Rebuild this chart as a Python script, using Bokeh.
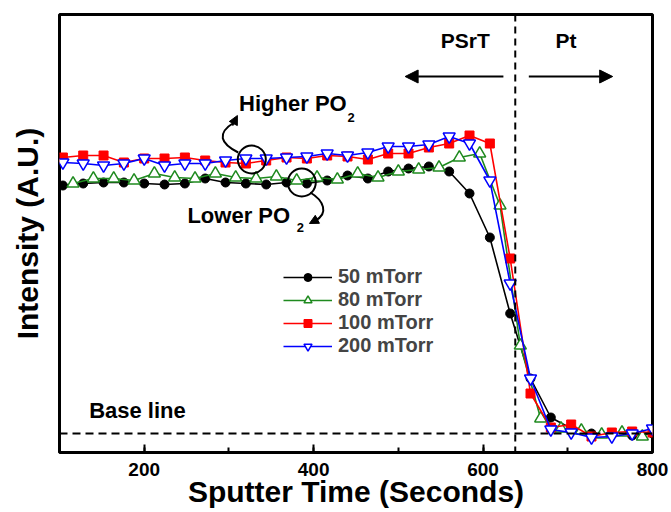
from bokeh.plotting import figure
from bokeh.models import (Span, Label, Arrow, NormalHead, Legend, LegendItem,
                          SingleIntervalTicker, FixedTicker, Range1d)
from bokeh.embed import file_html
from bokeh.resources import INLINE

FONT = "Liberation Sans"

# ---- data (intensity in arbitrary units, baseline = 0) ----
time_a = [104, 128, 152, 176, 200, 224, 248, 272, 296, 320, 344, 368, 392, 416, 440,
          464, 488, 512, 536, 560, 584, 608, 632, 656, 680, 704, 728, 752, 776, 800]
time_g = [116, 140, 164, 188, 212, 236, 260, 284, 308, 332, 356, 380, 404, 428, 452,
          476, 500, 524, 548, 572, 596, 620, 644, 668, 692, 716, 740, 764, 788]

i_50 = [248, 250, 251, 251, 250, 249, 250, 255, 251, 250, 249, 251, 250, 253, 258,
        255, 262, 265, 267, 262, 240, 196, 120, 55, 16, 5, 0, -1, -2, 0]
i_80 = [250, 255, 255, 253, 260, 256, 255, 260, 256, 255, 257, 253, 256, 254, 260,
        256, 262, 264, 266, 276, 280, 228, 88, 15, 5, 3, -1, 1, -3]
i_100 = [276, 278, 278, 271, 275, 275, 276, 273, 271, 270, 273, 276, 275, 278, 277,
         274, 280, 280, 286, 290, 298, 290, 175, 40, 6, 9, -3, 1, 2, 1]
i_200 = [271, 270, 268, 270, 275, 268, 270, 270, 273, 275, 275, 276, 277, 280, 278,
         281, 287, 287, 289, 297, 290, 253, 150, 55, 4, 1, -4, -3, 0, 5]

labels = ["50 mTorr", "80 mTorr", "100 mTorr", "200 mTorr"]
x_ticks = [200, 400, 600, 800]
interface_time = 638

p = figure(width=671, height=512, output_backend="svg", toolbar_location=None,
           x_range=Range1d(100, 800), y_range=Range1d(-19, 419),
           min_border_left=59, min_border_right=19, min_border_top=14,
           min_border_bottom=60)
p.background_fill_color = "white"
p.border_fill_color = "white"
p.grid.visible = False
p.outline_line_color = "black"
p.outline_line_width = 3

# x axis
p.xaxis.ticker = SingleIntervalTicker(interval=200, num_minor_ticks=2)
p.xaxis.axis_line_color = None
p.xaxis.major_tick_in = 8
p.xaxis.major_tick_out = 0
p.xaxis.major_tick_line_width = 2
p.xaxis.minor_tick_in = 5
p.xaxis.minor_tick_out = 0
p.xaxis.minor_tick_line_width = 2
p.xaxis.major_label_text_font = FONT
p.xaxis.major_label_text_font_style = "bold"
p.xaxis.major_label_text_font_size = "19px"
p.xaxis.major_label_text_color = "black"
p.xaxis.major_label_standoff = 10
p.xaxis.axis_label = "Sputter Time (Seconds)"
p.xaxis.axis_label_text_font = FONT
p.xaxis.axis_label_text_font_style = "bold"
p.xaxis.axis_label_text_font_size = "30px"
p.xaxis.axis_label_text_color = "black"
p.xaxis.axis_label_text_line_height = 1.0
p.xaxis.axis_label_standoff = -4

# y axis (no ticks)
p.yaxis.ticker = FixedTicker(ticks=[])
p.yaxis.axis_line_color = None
p.yaxis.major_tick_line_color = None
p.yaxis.minor_tick_line_color = None
p.yaxis.axis_label = "Intensity (A.U.)"
p.yaxis.axis_label_text_font = FONT
p.yaxis.axis_label_text_font_style = "bold"
p.yaxis.axis_label_text_font_size = "30px"
p.yaxis.axis_label_text_color = "black"
p.yaxis.axis_label_standoff = 16

# reference lines
p.add_layout(Span(location=interface_time, dimension="height", line_color="black",
                  line_width=2, line_dash="7 5"))
p.add_layout(Span(location=0, dimension="width", line_color="black",
                  line_width=2, line_dash="8 5"))

# series
l50 = p.line(time_a, i_50, line_color="black", line_width=1.6)
s50 = p.scatter(time_a, i_50, marker="circle", size=9, fill_color="black", line_color="black")
l80 = p.line(time_g, i_80, line_color="#1f8a1f", line_width=1.6)
s80 = p.scatter(time_g, i_80, marker="triangle", size=12, fill_color="white",
                line_color="#1f8a1f", line_width=1.5)
l100 = p.line(time_a, i_100, line_color="#ff0000", line_width=1.6)
s100 = p.scatter(time_a, i_100, marker="square", size=9, fill_color="#ff0000", line_color="#ff0000")
l200 = p.line(time_a, i_200, line_color="#0000ff", line_width=1.6)
s200 = p.scatter(time_a, i_200, marker="inverted_triangle", size=12, fill_color="white",
                 line_color="#0000ff", line_width=1.5)

legend = Legend(items=[LegendItem(label=labels[0], renderers=[l50, s50]),
                       LegendItem(label=labels[1], renderers=[l80, s80]),
                       LegendItem(label=labels[2], renderers=[l100, s100]),
                       LegendItem(label=labels[3], renderers=[l200, s200])],
                location=(224, 95), border_line_color=None, background_fill_alpha=0,
                label_text_font=FONT, label_text_font_style="bold",
                label_text_font_size="20px", label_text_line_height=1.0,
                label_standoff=6, glyph_width=49,
                glyph_height=20, label_height=20, spacing=0, padding=0, margin=0)
p.add_layout(legend)

# annotations
def lab(x, y, t, size="21px", align="left"):
    p.add_layout(Label(x=x, y=y, text=t, text_font=FONT, text_font_style="bold",
                       text_font_size=size, text_align=align, text_baseline="middle",
                       text_color="black"))

lab(579, 393, "PSrT", "21px", "center")
lab(698, 393, "Pt", "21px", "center")
p.add_layout(Arrow(end=NormalHead(size=13, fill_color="black", line_color="black"),
                   x_start=624, y_start=357, x_end=508, y_end=357, line_width=2))
p.add_layout(Arrow(end=NormalHead(size=13, fill_color="black", line_color="black"),
                   x_start=654, y_start=357, x_end=753, y_end=357, line_width=2))
lab(135, 23, "Base line", "22px")

lab(312, 330, "Higher PO", "22px")
lab(440, 316, "2", "13px")
lab(251, 218, "Lower PO", "22px")
lab(380, 206, "2", "13px")

# circles highlighting the two pressure groups
p.scatter([327, 386], [274, 251], marker="circle", size=28, fill_color=None,
          line_color="black", line_width=2)
# curved arrows
p.bezier(x0=[311], y0=[281], x1=[306], y1=[311], cx0=[290], cy0=[290],
         cx1=[285], cy1=[300], line_color="black", line_width=2)
p.add_layout(Arrow(end=NormalHead(size=9, fill_color="black", line_color="black"),
                   x_start=304, y_start=308, x_end=310, y_end=318, line_width=2))
p.bezier(x0=[396], y0=[241], x1=[402], y1=[213], cx0=[412], cy0=[233],
         cx1=[418], cy1=[220], line_color="black", line_width=2)
p.add_layout(Arrow(end=NormalHead(size=9, fill_color="black", line_color="black"),
                   x_start=404, y_start=214, x_end=395, y_end=210, line_width=2))

open("out.html", "w").write(file_html(p, INLINE))
